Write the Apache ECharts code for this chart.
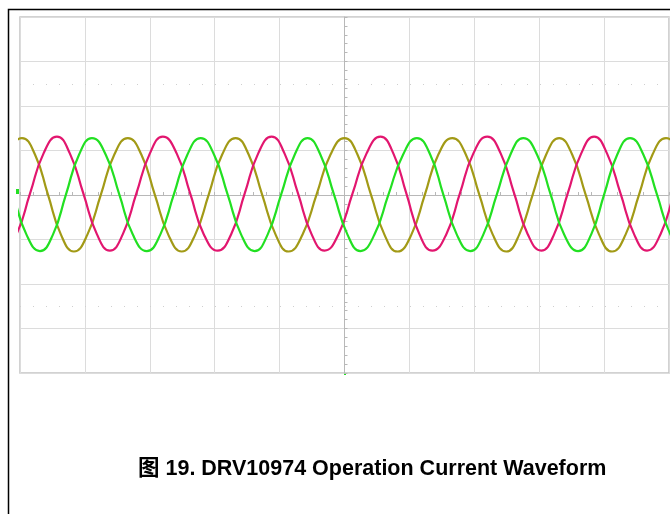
<!DOCTYPE html>
<html>
<head>
<meta charset="utf-8">
<title>DRV10974 Operation Current Waveform</title>
<script src="https://cdn.jsdelivr.net/npm/echarts@6/dist/echarts.min.js"></script>
<style>
  html, body { margin: 0; padding: 0; background: #fff; }
  #chart { width: 670px; height: 514px; }
</style>
</head>
<body>
<div id="chart"></div>
<script>
// scope screen: 10 x 8 divisions, time in screen samples (65 per div), current in divisions
const timeSpan = [0, 650];
const timeDiv = 65;
const levelSpan = [-4, 4];
const refLevels = [2.5, -2.5];
const caption = '图 19. DRV10974 Operation Current Waveform';

// phase currents: [time, level]
const phaseOlive = [
  [-51, -1.27], [-38, -0.89], [-24.5, 0.01], [-11, 0.91], [2, 1.28],
  [15, 0.91], [28, 0.01], [41, -0.89], [54, -1.27],
  [67.5, -0.89], [81, 0.01], [94.5, 0.91], [108, 1.28],
  [121.5, 0.91], [135, 0.01], [148.5, -0.89], [162, -1.27],
  [175.5, -0.89], [189, 0.01], [202.5, 0.91], [216, 1.28],
  [229, 0.91], [242.5, 0.01], [256, -0.89], [269, -1.27],
  [283, -0.89], [297, 0.01], [311, 0.91], [325, 1.28],
  [338, 0.91], [351.5, 0.01], [365, -0.89], [378, -1.27],
  [392, -0.89], [405.5, 0.01], [419, 0.91], [433, 1.28],
  [446.5, 0.91], [460, 0.01], [473.5, -0.89], [487, -1.27],
  [500, -0.89], [513.5, 0.01], [527, 0.91], [540, 1.28],
  [553, 0.91], [566.5, 0.01], [580, -0.89], [593, -1.27],
  [606.5, -0.89], [620, 0.01], [633.5, 0.91], [647, 1.28],
  [660, 0.91], [673.5, 0.01], [687, -0.89], [700, -1.27]
];

const phasePink = [
  [-17, -1.25], [-3.5, -0.88], [10, 0.03], [23.5, 0.93], [37, 1.31],
  [50, 0.93], [63.5, 0.03], [77, -0.88], [90, -1.25],
  [103, -0.88], [116.5, 0.03], [130, 0.93], [143, 1.31],
  [157, 0.93], [170.5, 0.03], [184, -0.88], [198, -1.25],
  [211.5, -0.88], [225, 0.03], [238.5, 0.93], [252, 1.31],
  [265, 0.93], [278.5, 0.03], [292, -0.88], [305, -1.25],
  [319, -0.88], [333, 0.03], [347, 0.93], [361, 1.31],
  [374, 0.93], [387, 0.03], [400, -0.88], [413, -1.25],
  [427, -0.88], [440.5, 0.03], [454, 0.93], [468, 1.31],
  [481.5, 0.93], [495, 0.03], [508.5, -0.88], [522, -1.25],
  [535, -0.88], [548.5, 0.03], [562, 0.93], [575, 1.31],
  [588, 0.93], [601.5, 0.03], [615, -0.88], [628, -1.25],
  [641.5, -0.88], [655, 0.03], [668.5, 0.93], [682, 1.31]
];

const phaseGreen = [
  [-34, 1.28], [-20.5, 0.9], [-7, 0.01], [6.5, -0.89], [20, -1.26],
  [33, -0.89], [46, 0.01], [59, 0.9], [72, 1.28],
  [86, 0.9], [99.5, 0.01], [113, -0.89], [127, -1.26],
  [140.5, -0.89], [154, 0.01], [167.5, 0.9], [181, 1.28],
  [194.5, 0.9], [208, 0.01], [221.5, -0.89], [235, -1.26],
  [248, -0.89], [261.5, 0.01], [275, 0.9], [288, 1.28],
  [301, 0.9], [314.5, 0.01], [328, -0.89], [341, -1.26],
  [355, -0.89], [369, 0.01], [383.5, 0.9], [397.5, 1.28],
  [411, 0.9], [424, 0.01], [437.5, -0.89], [451, -1.26],
  [464, -0.89], [477.5, 0.01], [491, 0.9], [504, 1.28],
  [518, 0.9], [531.5, 0.01], [545, -0.89], [559, -1.26],
  [572, -0.89], [585, 0.01], [598, 0.9], [611, 1.28],
  [624.5, 0.9], [638, 0.01], [651.5, -0.89], [665, -1.26],
  [678, -0.89], [691.5, 0.01], [705, 0.9], [718, 1.28]
];

const chart = echarts.init(document.getElementById('chart'), null, { renderer: 'canvas' });

const gridLine = { lineStyle: { color: '#dcdcdc', width: 1 } };
const centerLine = { color: '#b8b8b8', width: 1 };

const trace = (name, data, color) => ({
  name: name,
  type: 'line',
  data: data,
  smooth: 0.5,
  showSymbol: false,
  clip: true,
  silent: true,
  lineStyle: { color: color, width: 2.2 },
  itemStyle: { color: color }
});

const option = {
  backgroundColor: '#fff',
  animation: false,
  title: {
    text: caption,
    left: 138,
    top: 458,
    padding: 0,
    textStyle: {
      fontFamily: "'Liberation Sans', 'Noto Sans CJK SC', Arial, sans-serif",
      fontWeight: 'bold',
      fontSize: 21.5,
      color: '#000'
    }
  },
  graphic: [
    {
      // figure frame
      type: 'rect',
      shape: { x: 8.5, y: 9.5, width: 720, height: 560 },
      style: { fill: 'none', stroke: '#000', lineWidth: 1.5 },
      silent: true
    },
    {
      // channel ground marker
      type: 'rect',
      shape: { x: 16, y: 189, width: 3, height: 5 },
      style: { fill: '#22e022' },
      silent: true
    },
    {
      // trigger position marker
      type: 'rect',
      shape: { x: 344, y: 373, width: 2, height: 2 },
      style: { fill: '#22e022' },
      silent: true
    }
  ],
  grid: {
    left: 20,
    top: 17,
    right: 1,
    height: 356,
    show: true,
    borderColor: '#c4c4c4',
    borderWidth: 1.5,
    backgroundColor: '#fff'
  },
  xAxis: [
    {
      type: 'value',
      min: timeSpan[0],
      max: timeSpan[1],
      interval: timeDiv,
      axisLabel: { show: false },
      axisLine: { show: true, onZero: true, lineStyle: centerLine },
      axisTick: { show: true, inside: true, length: 3, lineStyle: centerLine },
      minorTick: { show: true, splitNumber: 5, length: 3, lineStyle: centerLine },
      splitLine: gridLine
    },
    {
      // centred time base, only used to put the vertical centre line at t = 0
      type: 'value',
      min: -5,
      max: 5,
      show: false
    }
  ],
  yAxis: {
    type: 'value',
    min: levelSpan[0],
    max: levelSpan[1],
    interval: 1,
    axisLabel: { show: false },
    axisLine: { show: true, onZero: true, onZeroAxisIndex: 1, lineStyle: centerLine },
    axisTick: { show: true, inside: true, length: 3, lineStyle: centerLine },
    minorTick: { show: true, splitNumber: 5, length: 3, lineStyle: centerLine },
    splitLine: gridLine
  },
  series: [
    {
      name: 'ref',
      type: 'line',
      data: [],
      silent: true,
      markLine: {
        silent: true,
        symbol: 'none',
        label: { show: false },
        lineStyle: { color: '#cfcfcf', width: 1, type: [1, 12] },
        data: refLevels.map(v => ({ yAxis: v }))
      }
    },
    trace('Phase A', phaseOlive, '#a29a16'),
    trace('Phase B', phasePink, '#e2166f'),
    trace('Phase C', phaseGreen, '#22e022')
  ]
};

chart.setOption(option);
</script>
</body>
</html>
